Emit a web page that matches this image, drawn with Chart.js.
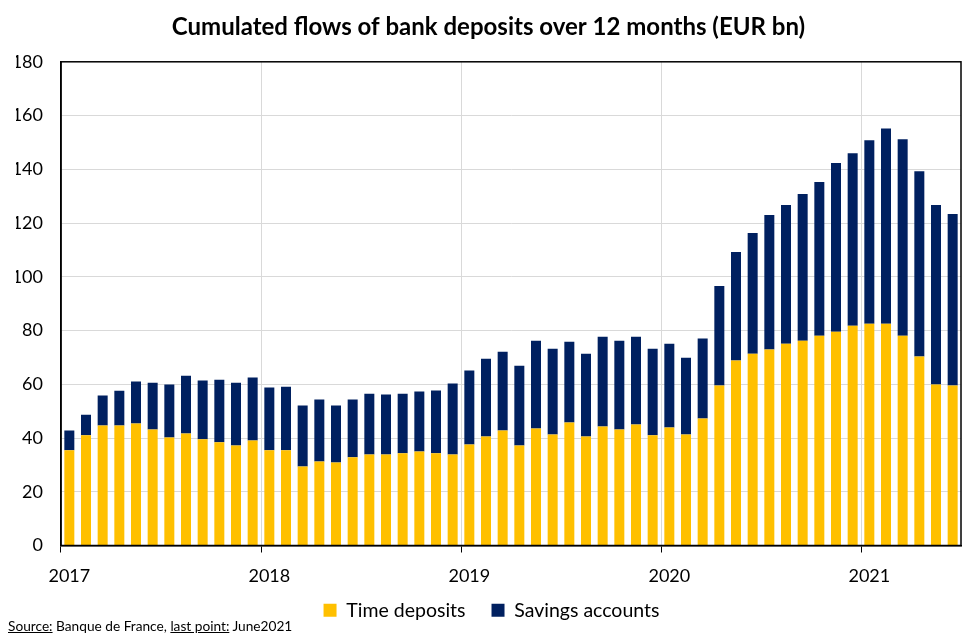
<!DOCTYPE html>
<html>
<head>
<meta charset="utf-8">
<script src="https://cdn.jsdelivr.net/npm/chart.js@4/dist/chart.umd.min.js"></script>
<style>
	body { margin: 0; background: #fff; }
	#wrap { position: relative; width: 977px; height: 638px; }
	#source {
		position: absolute; left: 8px; top: 617px;
		font-family: Lato, 'Open Sans', sans-serif; font-size: 13.7px; color: #000;
	}
</style>
</head>
<body>
<div id="wrap">
	<canvas id="deposits" width="977" height="638"></canvas>
	<div id="source"><u>Source:</u> Banque de France, <u>last point:</u> June2021</div>
</div>
<script>
var months = [
	'2017-01','2017-02','2017-03','2017-04','2017-05','2017-06','2017-07','2017-08','2017-09','2017-10','2017-11','2017-12',
	'2018-01','2018-02','2018-03','2018-04','2018-05','2018-06','2018-07','2018-08','2018-09','2018-10','2018-11','2018-12',
	'2019-01','2019-02','2019-03','2019-04','2019-05','2019-06','2019-07','2019-08','2019-09','2019-10','2019-11','2019-12',
	'2020-01','2020-02','2020-03','2020-04','2020-05','2020-06','2020-07','2020-08','2020-09','2020-10','2020-11','2020-12',
	'2021-01','2021-02','2021-03','2021-04','2021-05','2021-06'
];

// time deposits (EUR bn)
var time_deposits = [
	35.4, 41.0, 44.7, 44.7, 45.4, 43.2, 40.2, 41.7, 39.5, 38.4, 37.2, 39.1,
	35.4, 35.4, 29.4, 31.3, 30.9, 32.8, 33.9, 33.9, 34.3, 35.0, 34.3, 33.9,
	37.6, 40.6, 42.8, 37.2, 43.5, 41.3, 45.8, 40.6, 44.3, 43.2, 45.0, 41.0,
	43.9, 41.3, 47.3, 59.5, 68.8, 71.4, 72.9, 75.1, 76.2, 78.1, 79.5, 81.8,
	82.5, 82.5, 78.1, 70.3, 59.9, 59.5
];

// savings accounts (EUR bn)
var savings_accounts = [
	7.4, 7.7, 11.1, 12.9, 15.6, 17.4, 19.7, 21.5, 21.9, 23.3, 23.4, 23.4,
	23.4, 23.7, 22.7, 23.0, 21.2, 21.5, 22.6, 22.3, 22.2, 22.3, 23.4, 26.4,
	27.5, 28.9, 29.3, 29.7, 32.7, 31.9, 30.0, 30.8, 33.4, 33.0, 32.7, 32.2,
	31.2, 28.6, 29.7, 37.1, 40.4, 44.9, 50.1, 51.6, 54.6, 57.2, 62.8, 64.2,
	68.3, 72.7, 73.1, 69.0, 66.8, 63.9
];

var frame = {
	id: 'frame',
	afterDraw: function (chart) {
		var a = chart.chartArea;
		var ctx = chart.ctx;
		ctx.save();
		ctx.strokeStyle = '#000';
		ctx.lineWidth = 1.5;
		ctx.strokeRect(a.left, a.top, a.right - a.left, a.bottom - a.top);
		ctx.restore();
	}
};

// pull the legend up closer to the axis labels, keep wide gaps between items
var legend_shift = {
	id: 'legend_shift',
	beforeInit: function (chart) {
		var fit = chart.legend.fit;
		chart.legend.fit = function () {
			fit.call(this);
			this.height -= 13;
		};
	},
	afterLayout: function (chart) {
		var l = chart.legend;
		l.top -= 13;
		l.height += 13;
		l.left += 3;
		l.right += 3;
	}
};

function draw() {
	var ctx = document.getElementById('deposits').getContext('2d');
	Chart.defaults.font.family = "Lato, 'Open Sans', sans-serif";
	Chart.defaults.color = '#000';

	var myChart = new Chart(ctx, {
		type: 'bar',
		data: {
			labels: months,
			datasets: [{
				label: 'Time deposits',
				data: time_deposits,
				backgroundColor: '#FFC000',
				barPercentage: 0.6,
				categoryPercentage: 1
			}, {
				label: 'Savings accounts',
				data: savings_accounts,
				backgroundColor: '#002060',
				barPercentage: 0.6,
				categoryPercentage: 1
			}]
		},
		options: {
			responsive: false,
			animation: false,
			layout: { padding: { left: 16, right: 16, top: 0, bottom: 8 } },
			plugins: {
				title: {
					display: true,
					text: 'Cumulated flows of bank deposits over 12 months (EUR bn)',
					font: { size: 24, weight: 'bold' },
					padding: { top: 13, bottom: 20 }
				},
				legend: {
					position: 'bottom',
					labels: {
						boxWidth: 13,
						boxHeight: 13,
						font: { size: 19.5 },
						padding: 26
					}
				},
				tooltip: { enabled: false }
			},
			scales: {
				x: {
					stacked: true,
					offset: true,
					afterFit: function (scale) { scale.height = 42; },
					grid: {
						offset: true,
						color: function (c) {
							return c.index % 12 == 0 ? '#d9d9d9' : 'rgba(0,0,0,0)';
						},
						tickColor: function (c) {
							return c.index % 12 == 0 ? '#000' : 'rgba(0,0,0,0)';
						},
						tickLength: 7
					},
					border: { color: '#000', width: 1.5 },
					ticks: {
						autoSkip: false,
						maxRotation: 0,
						font: { size: 18 },
						padding: 13,
						callback: function (value, index) {
							var m = months[index];
							return m.slice(5) == '01' ? m.slice(0, 4) : '';
						}
					}
				},
				y: {
					stacked: true,
					min: 0,
					max: 180,
					afterFit: function (scale) { scale.width = 45; },
					grid: { color: '#d9d9d9', drawTicks: false },
					border: { color: '#000', width: 1.5 },
					ticks: {
						stepSize: 20,
						font: { size: 18 },
						padding: 18
					}
				}
			}
		},
		plugins: [frame, legend_shift]
	});
}

window.onload = function () {
	draw();
};
</script>
</body>
</html>
